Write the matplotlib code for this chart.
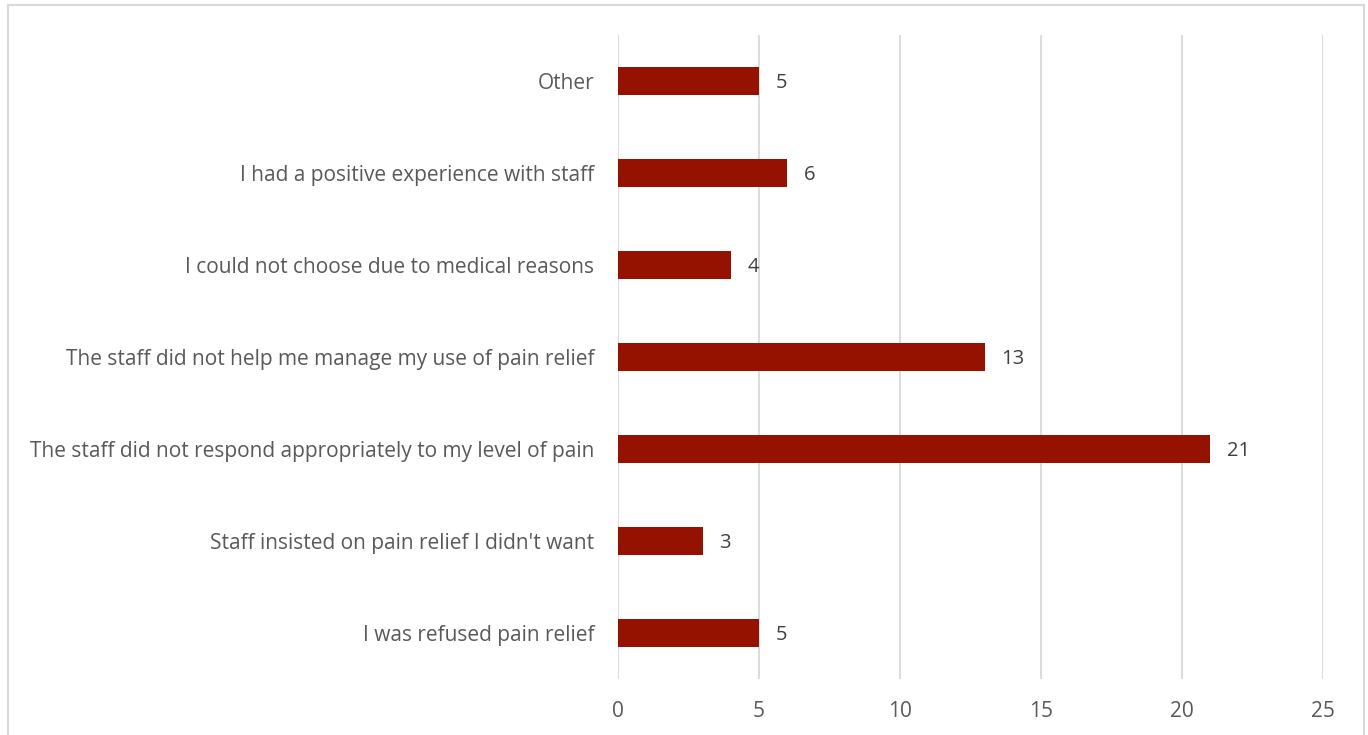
import matplotlib.pyplot as plt
from matplotlib.patches import Rectangle

categories = [
    "I was refused pain relief",
    "Staff insisted on pain relief I didn't want",
    "The staff did not respond appropriately to my level of pain",
    "The staff did not help me manage my use of pain relief",
    "I could not choose due to medical reasons",
    "I had a positive experience with staff",
    "Other",
]
counts = [5, 3, 21, 13, 4, 6, 5]
x_ticks = [0, 5, 10, 15, 20, 25]

BAR_COLOR = "#961200"
TEXT_COLOR = "#595959"
LABEL_COLOR = "#404040"
GRID_COLOR = "#d9d9d9"

plt.rcParams["font.family"] = ["Open Sans", "DejaVu Sans"]

fig = plt.figure(figsize=(13.68, 7.35), dpi=100)
ax = fig.add_axes([618 / 1368, 1 - 679 / 735, 705 / 1368, 644 / 735])

ypos = list(range(len(categories)))
bars = ax.barh(ypos, counts, height=0.315, color=BAR_COLOR, zorder=3)

for y, v in zip(ypos, counts):
    ax.annotate(str(v), xy=(v, y), xytext=(12, 0), textcoords="offset points",
                ha="left", va="center_baseline", fontsize=14.5, color=LABEL_COLOR)

ax.set_xlim(0, 25)
ax.set_ylim(-0.5, len(categories) - 0.5)
ax.set_xticks(x_ticks)
ax.set_yticks(ypos)
ax.set_yticklabels(categories)
ax.tick_params(axis="both", length=0, labelsize=15, colors=TEXT_COLOR)
ax.tick_params(axis="x", pad=16)
ax.tick_params(axis="y", pad=17)
ax.grid(axis="x", color=GRID_COLOR, linewidth=1.3, zorder=0)
for s in ax.spines.values():
    s.set_visible(False)

# chart-area frame
fig.patches.append(Rectangle((8 / 1368, -0.01), 1356 / 1368, 1 - 5 / 735 + 0.01,
                             transform=fig.transFigure, fill=False,
                             edgecolor=GRID_COLOR, linewidth=1.5))

fig.savefig("out.png", dpi=100)
